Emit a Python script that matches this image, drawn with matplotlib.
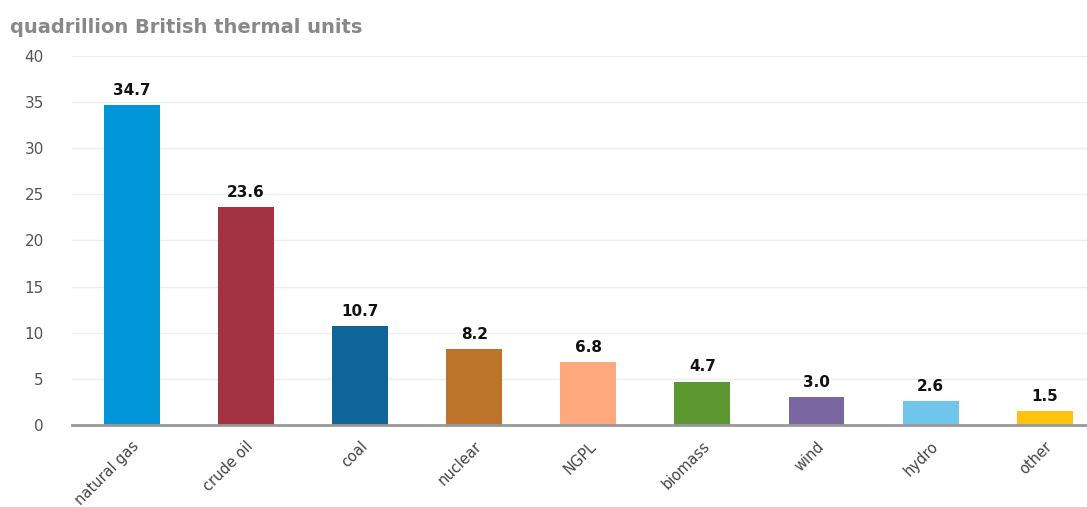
import matplotlib.pyplot as plt

# energy production by source
sources = ['natural gas', 'crude oil', 'coal', 'nuclear', 'NGPL',
           'biomass', 'wind', 'hydro', 'other']
values = [34.7, 23.6, 10.7, 8.2, 6.8, 4.7, 3.0, 2.6, 1.5]
colors = ['#0096d7', '#a33340', '#0f6597', '#bd732a', '#ffa87d',
          '#5d9732', '#7a66a0', '#6fc6ea', '#ffc20e']
yticks = [0, 5, 10, 15, 20, 25, 30, 35, 40]

fig = plt.figure(figsize=(10.87, 5.07), dpi=100)
ax = fig.add_axes([0.066, 0.162, 0.934, 0.7275])

x = range(len(sources))
bars = ax.bar(x, values, width=0.49, color=colors, zorder=3)
for xi, v in zip(x, values):
    ax.text(xi, v + 0.8, f'{v:.1f}', ha='center', va='bottom',
            fontsize=11, fontweight='bold', color='#111111')

ax.set_xlim(-0.526, 8.37)
ax.set_ylim(0, 40)
ax.set_yticks(yticks)
ax.set_yticklabels([str(t) for t in yticks], color='#555555', fontsize=11)
ax.set_xticks(list(x))
ax.set_xticklabels(sources, rotation=45, ha='right', rotation_mode='anchor',
                   fontsize=10.5, color='#444444')
ax.tick_params(axis='both', length=0)
ax.tick_params(axis='y', pad=20)
ax.tick_params(axis='x', pad=10)

ax.grid(axis='y', color='#eeeeee', linewidth=1, zorder=0)
for s in ['top', 'right', 'left']:
    ax.spines[s].set_visible(False)
ax.spines['bottom'].set_color('#999999')
ax.spines['bottom'].set_linewidth(2)
ax.spines['bottom'].set_zorder(4)

fig.text(0.009, 0.945, 'quadrillion British thermal units', fontsize=14,
         fontweight='bold', color='#888888', va='center')

fig.savefig('out.png', dpi=100)
